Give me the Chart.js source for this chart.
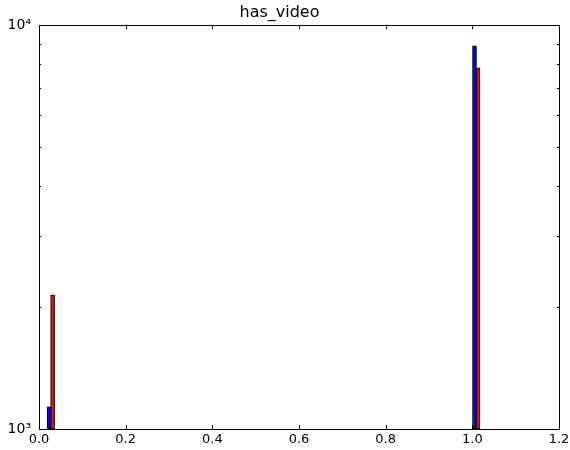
<!DOCTYPE html>
<html>
<head>
<meta charset="utf-8">
<script src="https://cdn.jsdelivr.net/npm/chart.js@4/dist/chart.umd.min.js"></script>
<style>
  body { margin: 0; background: #fff; }
  #wrap { width: 570px; height: 450px; }
</style>
</head>
<body>
<div id="wrap"><canvas id="hist" width="570" height="450"></canvas></div>
<script>
// histogram data (log y axis)
const blueX = [0.0233, 1.005];
const blueCounts = [1134, 8890];
const redX = [0.0314, 1.0127];
const redCounts = [2146, 7842];
const xTicks = [0, 0.2, 0.4, 0.6, 0.8, 1.0, 1.2];
const yTicks = [1000, 2000, 3000, 4000, 5000, 6000, 7000, 8000, 9000, 10000];
const yLabels = { 1000: '10\u00b3', 10000: '10\u2074' };

const toPoints = (xs, ys) => xs.map((x, i) => ({ x: x, y: ys[i] }));

// frame + inward tick marks, matplotlib classic style
const frameTicks = {
    id: 'frameTicks',
    afterDraw(chart) {
        const { ctx, chartArea: a, scales } = chart;
        ctx.save();
        ctx.strokeStyle = '#000';
        ctx.lineWidth = 1;
        ctx.beginPath();
        xTicks.forEach(v => {
            const px = Math.round(scales.x.getPixelForValue(v)) + 0.5;
            ctx.moveTo(px, a.bottom); ctx.lineTo(px, a.bottom - 4);
            ctx.moveTo(px, a.top); ctx.lineTo(px, a.top + 4);
        });
        yTicks.forEach(v => {
            const py = Math.round(scales.y.getPixelForValue(v)) + 0.5;
            const len = yLabels[v] ? 4 : 2;
            ctx.moveTo(a.left, py); ctx.lineTo(a.left + len, py);
            ctx.moveTo(a.right, py); ctx.lineTo(a.right - len, py);
        });
        ctx.stroke();
        ctx.strokeRect(Math.round(a.left) + 0.5, Math.round(a.top) + 0.5,
            Math.round(a.right - a.left), Math.round(a.bottom - a.top));
        ctx.restore();
    }
};

new Chart(document.getElementById('hist'), {
    type: 'bar',
    data: {
        datasets: [
            {
                label: 'blue',
                data: toPoints(blueX, blueCounts),
                backgroundColor: '#0000ff',
                borderColor: '#000',
                borderWidth: 1,
                borderSkipped: false,
                barThickness: 4
            },
            {
                label: 'red',
                data: toPoints(redX, redCounts),
                backgroundColor: '#ff0000',
                borderColor: '#000',
                borderWidth: 1,
                borderSkipped: false,
                barThickness: 4
            }
        ]
    },
    options: {
        responsive: false,
        animation: false,
        grouped: false,
        layout: { padding: { left: 0, right: 11, top: 0, bottom: 0 } },
        plugins: {
            legend: { display: false },
            tooltip: { enabled: false },
            title: {
                display: true,
                text: 'has_video',
                color: '#000',
                font: { family: 'DejaVu Sans', size: 16, weight: 'normal' },
                padding: { top: 3, bottom: 3 }
            }
        },
        scales: {
            x: {
                type: 'linear',
                offset: false,
                min: 0,
                max: 1.2,
                grid: { display: false, drawTicks: false, offset: false },
                border: { display: false },
                afterBuildTicks: s => { s.ticks = xTicks.map(v => ({ value: v })); },
                afterFit: s => { s.height = 21; s.paddingLeft = 0; s.paddingRight = 0; },
                ticks: {
                    color: '#000',
                    padding: 3,
                    maxRotation: 0,
                    font: { family: 'DejaVu Sans', size: 13 },
                    callback: v => Number(v).toFixed(1)
                }
            },
            y: {
                type: 'logarithmic',
                min: 1000,
                max: 10000,
                grid: { display: false, drawTicks: false },
                border: { display: false },
                afterBuildTicks: s => { s.ticks = yTicks.map(v => ({ value: v })); },
                afterFit: s => { s.width = 39; s.paddingTop = 0; s.paddingBottom = 0; },
                ticks: {
                    color: '#000',
                    padding: 8,
                    autoSkip: false,
                    font: { family: 'DejaVu Sans', size: 14 },
                    callback: v => yLabels[v] || ''
                }
            }
        }
    },
    plugins: [frameTicks]
});
</script>
</body>
</html>
